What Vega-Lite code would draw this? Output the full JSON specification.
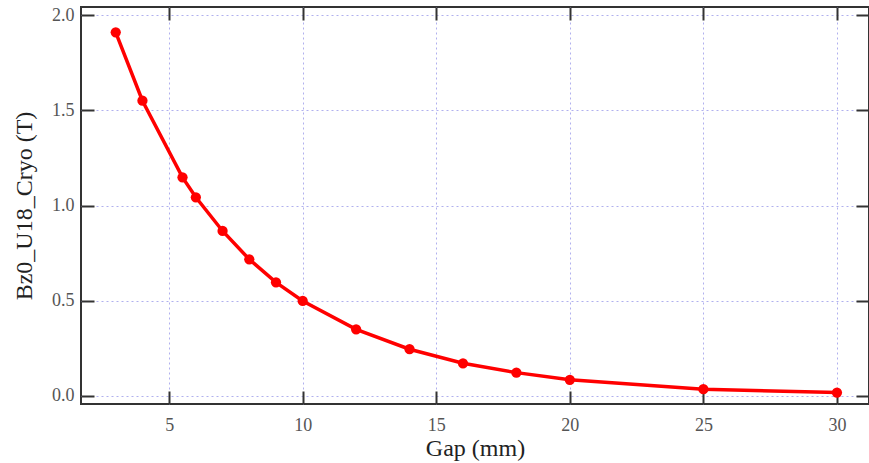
{
  "$schema": "https://vega.github.io/schema/vega-lite/v6.json",
  "autosize": "none",
  "padding": {"left": 81, "top": 7, "right": 0, "bottom": 59},
  "width": 788,
  "height": 397,
  "background": "white",
  "config": {
    "view": {"stroke": "#333", "strokeWidth": 2},
    "axis": {
      "labelFont": "Liberation Serif",
      "labelFontSize": 18,
      "labelColor": "#555",
      "titleFont": "Liberation Serif",
      "titleFontSize": 24,
      "titleFontWeight": "normal",
      "titleColor": "#222",
      "gridColor": "#b0b0ee",
      "gridDash": [2, 3],
      "gridWidth": 1,
      "tickColor": "#333",
      "tickWidth": 2,
      "tickSize": -13,
      "domain": false
    }
  },
  "data": {
    "values": [
      {"gap": 3, "bz": 1.911},
      {"gap": 4, "bz": 1.551},
      {"gap": 5.5, "bz": 1.148},
      {"gap": 6, "bz": 1.043},
      {"gap": 7, "bz": 0.866},
      {"gap": 8, "bz": 0.717},
      {"gap": 9, "bz": 0.596},
      {"gap": 10, "bz": 0.498},
      {"gap": 12, "bz": 0.349},
      {"gap": 14, "bz": 0.244},
      {"gap": 16, "bz": 0.170},
      {"gap": 18, "bz": 0.121},
      {"gap": 20, "bz": 0.083},
      {"gap": 25, "bz": 0.034},
      {"gap": 30, "bz": 0.016}
    ]
  },
  "layer": [
    {
      "mark": {"type": "line", "color": "#ff0000", "strokeWidth": 3.5, "point": {"filled": true, "size": 105, "color": "#ff0000", "opacity": 1}},
      "encoding": {
        "x": {
          "field": "gap", "type": "quantitative",
          "scale": {"domain": [1.7, 31.2], "nice": false, "zero": false},
          "axis": {"title": "Gap (mm)", "values": [5, 10, 15, 20, 25, 30], "grid": true, "labelPadding": 25, "titlePadding": 2}
        },
        "y": {
          "field": "bz", "type": "quantitative",
          "scale": {"domain": [-0.044, 2.044], "nice": false, "zero": false},
          "axis": {"title": "Bz0_U18_Cryo (T)", "values": [0, 0.5, 1, 1.5, 2], "format": ".1f", "grid": true, "labelPadding": 20, "titlePadding": 15}
        }
      }
    },
    {
      "mark": {"type": "point", "opacity": 0},
      "encoding": {
        "x": {
          "field": "gap", "type": "quantitative",
          "axis": {"orient": "top", "title": null, "labels": false, "grid": false, "values": [5, 10, 15, 20, 25, 30]}
        },
        "y": {
          "field": "bz", "type": "quantitative",
          "axis": {"orient": "right", "title": null, "labels": false, "grid": false, "values": [0, 0.5, 1, 1.5, 2]}
        }
      }
    }
  ],
  "resolve": {"axis": {"x": "independent", "y": "independent"}}
}
